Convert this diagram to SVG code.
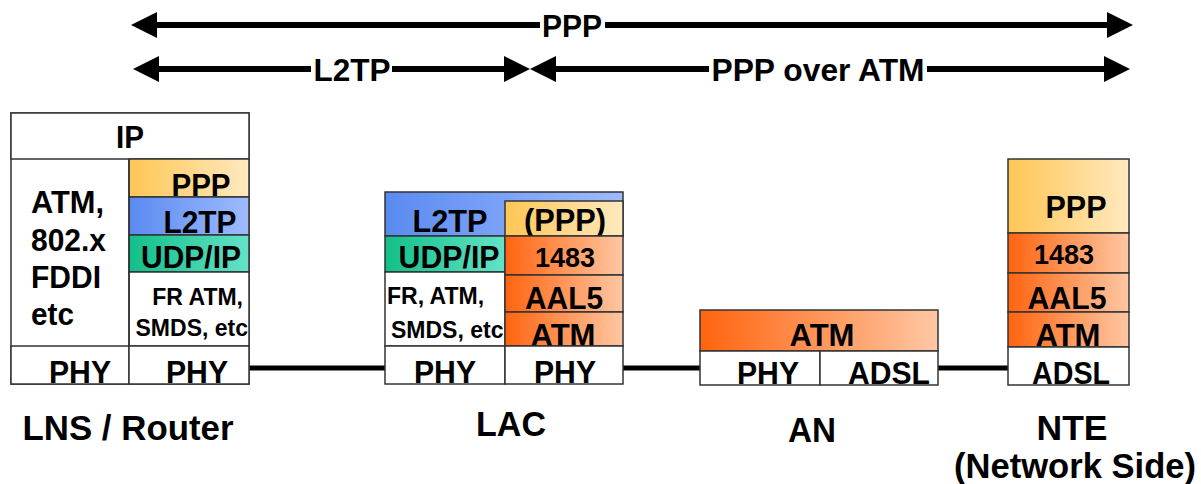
<svg xmlns="http://www.w3.org/2000/svg" width="1201" height="484" viewBox="0 0 1201 484">
<defs>
<style>
text{font-family:"Liberation Sans",Arial,sans-serif;font-weight:bold;fill:#000}
.c{text-anchor:middle}
.l{font-size:32px}
.s{font-size:23px}
.m{font-size:27px}
.t{font-size:35px;text-anchor:middle}
.box{stroke:#333;stroke-width:1.5}
.w{fill:#fff}
.span{stroke:#000;stroke-width:6;fill:none}
.link{stroke:#000;stroke-width:5;fill:none}
</style>
<linearGradient id="gOr" x1="0" x2="1" y1="0" y2="0"><stop offset="0" stop-color="#FF640F"/><stop offset="1" stop-color="#FFC7A3"/></linearGradient>
<linearGradient id="gYe" x1="0" x2="1" y1="0" y2="0"><stop offset="0" stop-color="#FFC655"/><stop offset="1" stop-color="#FFE9BF"/></linearGradient>
<linearGradient id="gBl" x1="0" x2="1" y1="0" y2="0"><stop offset="0" stop-color="#5A8AF0"/><stop offset="1" stop-color="#9EBBFF"/></linearGradient>
<linearGradient id="gGr" x1="0" x2="1" y1="0" y2="0"><stop offset="0" stop-color="#12BF88"/><stop offset="1" stop-color="#64E3C7"/></linearGradient>
<marker id="ah" markerUnits="userSpaceOnUse" viewBox="0 0 26 26" refX="0" refY="13" markerWidth="26" markerHeight="26" orient="auto-start-reverse">
<path d="M0,0 L26,13 L0,26 z" fill="#000"/>
</marker>
</defs>
<rect width="1201" height="484" fill="#fff"/>

<g id="connectors">
<path class="span" d="M157,25 H540" marker-start="url(#ah)"/>
<path class="span" d="M605,25 H1107" marker-end="url(#ah)"/>
<text class="l c" x="572" y="37" textLength="60" lengthAdjust="spacingAndGlyphs">PPP</text>
<path class="span" d="M159,69 H311" marker-start="url(#ah)"/>
<path class="span" d="M392,69 H504" marker-end="url(#ah)"/>
<text class="l c" x="352" y="81" textLength="77" lengthAdjust="spacingAndGlyphs">L2TP</text>
<path class="span" d="M556,69 H709" marker-start="url(#ah)"/>
<path class="span" d="M927,69 H1104" marker-end="url(#ah)"/>
<text class="l c" x="818" y="81" textLength="213" lengthAdjust="spacingAndGlyphs">PPP over ATM</text>
<path class="link" d="M249,368 H385"/>
<path class="link" d="M623,368 H700"/>
<path class="link" d="M938,368 H1008"/>
</g>

<g id="lns">
<rect class="box w" x="11" y="113" width="238" height="271"/>
<rect class="box w" x="11" y="113" width="238" height="46"/>
<text class="l c" x="130" y="148" textLength="28" lengthAdjust="spacingAndGlyphs">IP</text>
<rect class="box" x="129" y="159" width="120" height="38" fill="url(#gYe)"/>
<text class="l c" x="201" y="196" textLength="59" lengthAdjust="spacingAndGlyphs">PPP</text>
<rect class="box" x="129" y="197" width="120" height="38" fill="url(#gBl)"/>
<text class="l c" x="200" y="233" textLength="73" lengthAdjust="spacingAndGlyphs">L2TP</text>
<rect class="box" x="129" y="235" width="120" height="37" fill="url(#gGr)"/>
<text class="l c" x="191" y="268" textLength="100" lengthAdjust="spacingAndGlyphs">UDP/IP</text>
<rect class="box w" x="129" y="272" width="120" height="74"/>
<text class="s" x="243" y="305" text-anchor="end">FR ATM,</text>
<text class="s" x="248" y="336" text-anchor="end">SMDS, etc</text>
<line class="box" x1="129" y1="159" x2="129" y2="384"/>
<text class="l" x="31" y="213" textLength="73" lengthAdjust="spacingAndGlyphs">ATM,</text>
<text class="l" x="31" y="251" textLength="75" lengthAdjust="spacingAndGlyphs">802.x</text>
<text class="l" x="31" y="288" textLength="70" lengthAdjust="spacingAndGlyphs">FDDI</text>
<text class="l" x="31" y="325" textLength="43" lengthAdjust="spacingAndGlyphs">etc</text>
<rect class="box w" x="11" y="346" width="118" height="38"/>
<rect class="box w" x="129" y="346" width="120" height="38"/>
<text class="l c" x="80" y="383" textLength="62" lengthAdjust="spacingAndGlyphs">PHY</text>
<text class="l c" x="197" y="383" textLength="62" lengthAdjust="spacingAndGlyphs">PHY</text>
<text class="t" x="128" y="440" textLength="211" lengthAdjust="spacingAndGlyphs">LNS / Router</text>
</g>

<g id="lac">
<rect class="box" x="385" y="192" width="238" height="44" fill="url(#gBl)"/>
<text class="l c" x="450" y="232" textLength="75" lengthAdjust="spacingAndGlyphs">L2TP</text>
<rect class="box" x="505" y="201" width="118" height="35" fill="url(#gYe)"/>
<text class="l c" x="565" y="231" textLength="82" lengthAdjust="spacingAndGlyphs">(PPP)</text>
<rect class="box" x="385" y="236" width="120" height="36" fill="url(#gGr)"/>
<text class="l c" x="449" y="268" textLength="101" lengthAdjust="spacingAndGlyphs">UDP/IP</text>
<rect class="box w" x="385" y="272" width="120" height="74"/>
<text class="s" x="387" y="304">FR, ATM,</text>
<text class="s" x="391" y="338">SMDS, etc</text>
<rect class="box" x="505" y="236" width="118" height="39" fill="url(#gOr)"/>
<text class="m c" x="565" y="267">1483</text>
<rect class="box" x="505" y="275" width="118" height="37" fill="url(#gOr)"/>
<text class="l c" x="564" y="309" textLength="78" lengthAdjust="spacingAndGlyphs">AAL5</text>
<rect class="box" x="505" y="312" width="118" height="34" fill="url(#gOr)"/>
<text class="l c" x="563" y="346" textLength="65" lengthAdjust="spacingAndGlyphs">ATM</text>
<rect class="box w" x="385" y="346" width="120" height="38"/>
<rect class="box w" x="505" y="346" width="118" height="38"/>
<text class="l c" x="445" y="383" textLength="62" lengthAdjust="spacingAndGlyphs">PHY</text>
<text class="l c" x="565" y="383" textLength="62" lengthAdjust="spacingAndGlyphs">PHY</text>
<text class="t" x="511" y="436" textLength="70" lengthAdjust="spacingAndGlyphs">LAC</text>
</g>

<g id="an">
<rect class="box" x="700" y="310" width="238" height="41" fill="url(#gOr)"/>
<text class="l c" x="822" y="346" textLength="65" lengthAdjust="spacingAndGlyphs">ATM</text>
<rect class="box w" x="700" y="351" width="120" height="34"/>
<rect class="box w" x="820" y="351" width="118" height="34"/>
<text class="l c" x="768" y="384" textLength="62" lengthAdjust="spacingAndGlyphs">PHY</text>
<text class="l c" x="889" y="384" textLength="82" lengthAdjust="spacingAndGlyphs">ADSL</text>
<text class="t" x="812" y="442" textLength="48" lengthAdjust="spacingAndGlyphs">AN</text>
</g>

<g id="nte">
<rect class="box" x="1008" y="159" width="121" height="74" fill="url(#gYe)"/>
<text class="l c" x="1076" y="218" textLength="61" lengthAdjust="spacingAndGlyphs">PPP</text>
<rect class="box" x="1008" y="233" width="121" height="40" fill="url(#gOr)"/>
<text class="m c" x="1064" y="264">1483</text>
<rect class="box" x="1008" y="273" width="121" height="39" fill="url(#gOr)"/>
<text class="l c" x="1067" y="309" textLength="79" lengthAdjust="spacingAndGlyphs">AAL5</text>
<rect class="box" x="1008" y="312" width="121" height="35" fill="url(#gOr)"/>
<text class="l c" x="1068" y="346" textLength="65" lengthAdjust="spacingAndGlyphs">ATM</text>
<rect class="box w" x="1008" y="347" width="121" height="38"/>
<text class="l c" x="1071" y="384" textLength="78" lengthAdjust="spacingAndGlyphs">ADSL</text>
<text class="t" x="1072" y="440" textLength="71" lengthAdjust="spacingAndGlyphs">NTE</text>
<text class="t" x="1075" y="478" textLength="242" lengthAdjust="spacingAndGlyphs">(Network Side)</text>
</g>
</svg>
